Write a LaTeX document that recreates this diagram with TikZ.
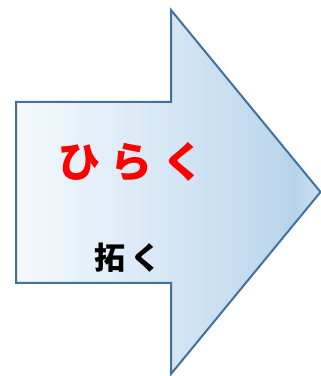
\documentclass[tikz,border=0pt]{standalone}
\usepackage{fontspec}
\newfontfamily\cjk{Noto Sans CJK JP}
\definecolor{cA}{HTML}{F5F9FD}
\definecolor{cB}{HTML}{D6E6F4}
\definecolor{cC}{HTML}{C6DCF0}
\definecolor{cD}{HTML}{B7D3EB}
\definecolor{cE}{HTML}{CFE2F3}
\definecolor{edge}{HTML}{41719C}
\pgfdeclarehorizontalshading{arrowshade}{100bp}{color(0bp)=(cA); color(25bp)=(cA); color(50bp)=(cB); color(62bp)=(cC); color(71bp)=(cD); color(75bp)=(cE); color(100bp)=(cE)}
\begin{document}
\begin{tikzpicture}[x=1pt,y=1pt]
\useasboundingbox (0,0) rectangle (321,376);
\tikzset{arrowbody/.style={draw=edge,line width=2pt,line join=miter,shading=arrowshade,shading angle=0}}
\path[arrowbody] (16,274) -- (171,274) -- (171,366) -- (320.5,184) -- (171,2) -- (171,93) -- (16,93) -- cycle;
\node[text=red,font=\cjk\bfseries\fontsize{42}{44}\selectfont,inner sep=0pt] (hiraku) at (132,214) {ひ\hspace{10pt}ら\hspace{10pt}く};
\node[text=black,font=\cjk\bfseries\fontsize{31}{33}\selectfont,inner sep=0pt] (taku) at (128,118) {拓\hspace{5pt}く};
\end{tikzpicture}
\end{document}
